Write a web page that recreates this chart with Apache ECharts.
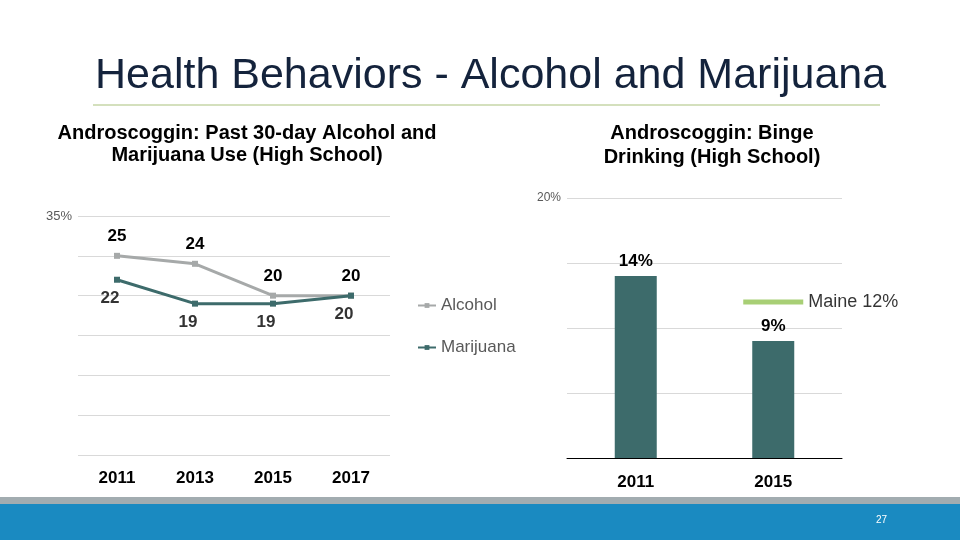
<!DOCTYPE html>
<html lang="en">
<head>
    <meta charset="UTF-8">
    <title>Health Behaviors - Alcohol and Marijuana</title>
    <script src="https://cdn.jsdelivr.net/npm/echarts@6/dist/echarts.min.js"></script>
    <style>
        html, body { margin: 0; padding: 0; background: #fff; }
        #chart { width: 960px; height: 540px; }
    </style>
</head>
<body>
    <div id="chart"></div>

    <script>
        // Left chart: past 30-day use
        var useYears = ['2011', '2013', '2015', '2017'];
        var alcohol = [25, 24, 20, 20];
        var marijuana = [22, 19, 19, 20];

        // Right chart: binge drinking
        var bingeYears = ['2011', '2015'];
        var binge = [14, 9];
        var maineYear = '2015';
        var maine = 12;

        var narrow = "'Liberation Sans Narrow', 'Arial Narrow', 'Liberation Sans', Arial, sans-serif";
        var sans = "'Liberation Sans', Arial, sans-serif";

        var chart = echarts.init(document.getElementById('chart'));

        var options = {
            animation: false,
            textStyle: { fontFamily: sans },
            legend: {
                data: ['Alcohol', 'Marijuana'],
                orient: 'vertical',
                left: 412,
                top: 292,
                itemGap: 25,
                itemWidth: 18,
                itemHeight: 6,
                textStyle: { fontSize: 17, color: '#595959', fontFamily: sans }
            },
            grid: [
                { left: 78, right: 570, top: 216, bottom: 85 },
                { left: 567, right: 118, top: 198, bottom: 82 }
            ],
            xAxis: [
                {
                    type: 'category',
                    gridIndex: 0,
                    data: useYears,
                    axisLine: { show: false },
                    axisTick: { show: false },
                    axisLabel: { margin: 15, fontSize: 17, fontWeight: 'bold', color: '#000', fontFamily: narrow }
                },
                {
                    type: 'category',
                    gridIndex: 1,
                    data: bingeYears,
                    axisLine: { lineStyle: { color: '#000', width: 1 } },
                    axisTick: { length: 6, lineStyle: { color: '#000' } },
                    axisLabel: { margin: 16, fontSize: 17, fontWeight: 'bold', color: '#000', fontFamily: narrow }
                }
            ],
            yAxis: [
                {
                    type: 'value',
                    gridIndex: 0,
                    min: 0,
                    max: 30,
                    interval: 5,
                    axisLine: { show: false },
                    axisTick: { show: false },
                    splitLine: { lineStyle: { color: '#d9d9d9' } },
                    axisLabel: {
                        margin: 6,
                        fontSize: 13,
                        color: '#595959',
                        formatter: function (v) { return v === 30 ? '35%' : ''; }
                    }
                },
                {
                    type: 'value',
                    gridIndex: 1,
                    min: 0,
                    max: 20,
                    interval: 5,
                    axisLine: { show: false },
                    axisTick: { show: false },
                    splitLine: { lineStyle: { color: '#d9d9d9' } },
                    axisLabel: {
                        margin: 6,
                        fontSize: 12,
                        color: '#595959',
                        formatter: function (v) { return v === 20 ? '20%' : ''; }
                    }
                }
            ],
            series: [
                {
                    name: 'Alcohol',
                    type: 'line',
                    xAxisIndex: 0,
                    yAxisIndex: 0,
                    data: alcohol,
                    symbol: 'rect',
                    symbolSize: 6,
                    itemStyle: { color: '#a6a9a9' },
                    lineStyle: { color: '#a6a9a9', width: 3 },
                    label: {
                        show: true,
                        position: 'top',
                        distance: 8,
                        fontSize: 17,
                        fontWeight: 'bold',
                        color: '#000',
                        fontFamily: narrow
                    }
                },
                {
                    name: 'Marijuana',
                    type: 'line',
                    xAxisIndex: 0,
                    yAxisIndex: 0,
                    data: marijuana,
                    symbol: 'rect',
                    symbolSize: 6,
                    itemStyle: { color: '#3d6b6b' },
                    lineStyle: { color: '#3d6b6b', width: 3 },
                    label: {
                        show: true,
                        position: 'bottom',
                        distance: 7,
                        offset: [-7, 0],
                        fontSize: 17,
                        fontWeight: 'bold',
                        color: '#333',
                        fontFamily: narrow
                    }
                },
                {
                    name: 'Binge',
                    type: 'bar',
                    xAxisIndex: 1,
                    yAxisIndex: 1,
                    data: binge,
                    barWidth: 42,
                    itemStyle: { color: '#3d6b6b' },
                    label: {
                        show: true,
                        position: 'top',
                        distance: 6,
                        fontSize: 17,
                        fontWeight: 'bold',
                        color: '#000',
                        fontFamily: narrow,
                        formatter: '{c}%'
                    }
                },
                {
                    name: 'Maine',
                    type: 'scatter',
                    xAxisIndex: 1,
                    yAxisIndex: 1,
                    data: [[maineYear, maine]],
                    symbol: 'rect',
                    symbolSize: [60, 5],
                    itemStyle: { color: '#92c353' },
                    label: {
                        show: true,
                        position: 'right',
                        distance: 5,
                        fontSize: 18,
                        color: '#000',
                        formatter: 'Maine ' + maine + '%'
                    },
                    z: 5
                }
            ],
            graphic: [
                {
                    type: 'text',
                    left: 95,
                    top: 55,
                    style: { text: 'Health Behaviors - Alcohol and Marijuana', font: '43px ' + sans, fill: '#14233c' }
                },
                {
                    type: 'rect',
                    shape: { x: 93, y: 104.5, width: 787, height: 1 },
                    style: { fill: '#a9c27c' }
                },
                {
                    type: 'text',
                    x: 247,
                    y: 122,
                    style: {
                        text: 'Androscoggin: Past 30-day Alcohol and\nMarijuana Use (High School)',
                        font: 'bold 20px ' + sans,
                        fill: '#000',
                        align: 'center',
                        lineHeight: 22
                    }
                },
                {
                    type: 'text',
                    x: 712,
                    y: 121,
                    style: {
                        text: 'Androscoggin: Binge\nDrinking (High School)',
                        font: 'bold 20px ' + sans,
                        fill: '#000',
                        align: 'center',
                        lineHeight: 24
                    }
                },
                {
                    type: 'rect',
                    shape: { x: 0, y: 497, width: 960, height: 7 },
                    style: { fill: '#a2acb0' }
                },
                {
                    type: 'rect',
                    shape: { x: 0, y: 504, width: 960, height: 36 },
                    style: { fill: '#1a8ac1' }
                },
                {
                    type: 'text',
                    x: 876,
                    y: 515,
                    style: { text: '27', font: '10px ' + narrow, fill: '#fff' }
                }
            ]
        };

        chart.setOption(options);
    </script>
</body>
</html>
